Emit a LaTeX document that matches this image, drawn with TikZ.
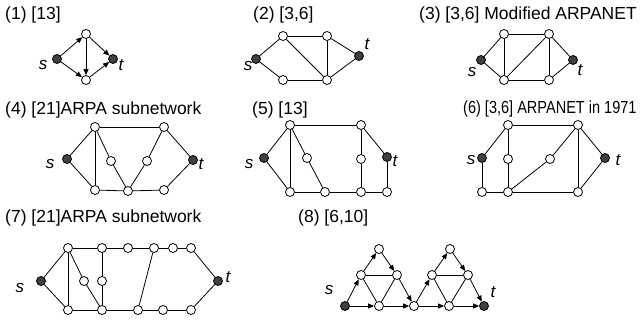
\documentclass[tikz,border=0pt]{standalone}
\usepackage{fontspec}
\setmainfont{Liberation Sans}
\usetikzlibrary{arrows.meta}

\begin{document}
\begin{tikzpicture}[x=1pt,y=-1pt,
  v/.style={draw,circle,fill=white,inner sep=0pt,minimum size=9pt,line width=.8pt},
  st/.style={draw,circle,fill=black!75,inner sep=0pt,minimum size=9pt,line width=.8pt},
  ttl/.style={anchor=west,inner sep=0pt,font=\fontsize{17.5}{18}\selectfont},
  lbl/.style={inner sep=0pt,font=\fontsize{17}{17}\selectfont\itshape},
  e/.style={line width=.8pt},
  a/.style={line width=.8pt,-{Triangle[length=6pt,width=5pt]}}]
\useasboundingbox (0,0) rectangle (642,320);
% (1)
\node[ttl] (h1) at (5,15) {(1) [13]};
\node[st] (s1) at (57,59) {};
\node[v] (u1) at (86,34) {};
\node[v] (w1) at (86,80) {};
\node[st] (t1) at (113,59) {};
\node[lbl] (ls1) at (43,65) {s};
\node[lbl] (lt1) at (121,65) {t};
\draw[a] (s1) -- (u1);
\draw[a] (s1) -- (w1);
\draw[a] (u1) -- (w1);
\draw[a] (u1) -- (t1);
\draw[a] (w1) -- (t1);
% (2)
\node[ttl] (h2) at (253,15) {(2) [3,6]};
\node[st] (s2) at (256,59) {};
\node[v] (u2) at (283,36) {};
\node[v] (x2) at (327,36) {};
\node[v] (w2) at (283,80) {};
\node[v] (y2) at (327,80) {};
\node[st] (t2) at (359,56) {};
\node[lbl] (ls2) at (248,66) {s};
\node[lbl] (lt2) at (367,44) {t};
\draw[e] (s2) -- (u2);
\draw[e] (s2) -- (w2);
\draw[e] (u2) -- (x2);
\draw[e] (u2) -- (y2);
\draw[e] (x2) -- (y2);
\draw[e] (w2) -- (y2);
\draw[e] (x2) -- (t2);
\draw[e] (y2) -- (t2);
% (3)
\node[ttl] (h3) at (419,15) {(3) [3,6] Modified ARPANET};
\node[st] (s3) at (481,60) {};
\node[v] (u3) at (504,34) {};
\node[v] (x3) at (549,34) {};
\node[v] (w3) at (504,80) {};
\node[v] (y3) at (549,80) {};
\node[st] (t3) at (573,60) {};
\node[lbl] (ls3) at (472,72) {s};
\node[lbl] (lt3) at (580,70) {t};
\draw[e] (s3) -- (u3);
\draw[e] (s3) -- (w3);
\draw[e] (u3) -- (x3);
\draw[e] (u3) -- (w3);
\draw[e] (w3) -- (x3);
\draw[e] (x3) -- (y3);
\draw[e] (w3) -- (y3);
\draw[e] (x3) -- (t3);
\draw[e] (y3) -- (t3);
% (4)
\node[ttl] (h4) at (5,110) {(4) [21]ARPA subnetwork};
\node[st] (s4) at (67,159) {};
\node[v] (a4) at (95,127) {};
\node[v] (b4) at (95,190) {};
\node[v] (c4) at (111,161) {};
\node[v] (d4) at (128,191) {};
\node[v] (e4) at (147,161) {};
\node[v] (f4) at (164,127) {};
\node[v] (g4) at (164,190) {};
\node[st] (t4) at (193,160) {};
\node[lbl] (ls4) at (50,164) {s};
\node[lbl] (lt4) at (201,164) {t};
\draw[e] (s4) -- (a4);
\draw[e] (s4) -- (b4);
\draw[e] (a4) -- (b4);
\draw[e] (a4) -- (f4);
\draw[e] (a4) -- (c4);
\draw[e] (c4) -- (d4);
\draw[e] (b4) -- (d4);
\draw[e] (d4) -- (e4);
\draw[e] (e4) -- (f4);
\draw[e] (d4) -- (g4);
\draw[e] (f4) -- (t4);
\draw[e] (g4) -- (t4);
% (5)
\node[ttl] (h5) at (252,110) {(5) [13]};
\node[st] (s5) at (264,158) {};
\node[v] (a5) at (290,125) {};
\node[v] (b5) at (290,192) {};
\node[v] (c5) at (307,158) {};
\node[v] (d5) at (325,192) {};
\node[v] (f5) at (361,125) {};
\node[v] (m5) at (361,159) {};
\node[v] (g5) at (361,192) {};
\node[st] (t5) at (387,157) {};
\node[v] (k5) at (387,192) {};
\node[lbl] (ls5) at (249,164) {s};
\node[lbl] (lt5) at (395,161) {t};
\draw[e] (s5) -- (a5);
\draw[e] (s5) -- (b5);
\draw[e] (a5) -- (b5);
\draw[e] (a5) -- (c5);
\draw[e] (c5) -- (d5);
\draw[e] (b5) -- (d5);
\draw[e] (a5) -- (f5);
\draw[e] (f5) -- (m5);
\draw[e] (m5) -- (g5);
\draw[e] (d5) -- (g5);
\draw[e] (g5) -- (k5);
\draw[e] (f5) -- (t5);
\draw[e] (t5) -- (k5);
% (6)
\node[ttl,font=\fontsize{17.5}{18}\selectfont\addfontfeature{FakeStretch=0.83}] (h6) at (463,109) {(6) [3,6] ARPANET in 1971};
\node[st] (s6) at (482,158) {};
\node[v] (a6) at (508,125) {};
\node[v] (m6) at (508,159) {};
\node[v] (p6) at (482,192) {};
\node[v] (b6) at (508,192) {};
\node[v] (c6) at (550,159) {};
\node[v] (f6) at (578,125) {};
\node[v] (g6) at (578,192) {};
\node[st] (t6) at (605,158) {};
\node[lbl] (ls6) at (471,160) {s};
\node[lbl] (lt6) at (618,160) {t};
\draw[e] (s6) -- (a6);
\draw[e] (s6) -- (p6);
\draw[e] (p6) -- (b6);
\draw[e] (a6) -- (m6);
\draw[e] (m6) -- (b6);
\draw[e] (a6) -- (f6);
\draw[e] (b6) -- (c6);
\draw[e] (c6) -- (f6);
\draw[e] (f6) -- (g6);
\draw[e] (b6) -- (g6);
\draw[e] (f6) -- (t6);
\draw[e] (t6) -- (g6);
% (7)
\node[ttl] (h7) at (5,218) {(7) [21]ARPA subnetwork};
\node[st] (s7) at (41,281) {};
\node[v] (p71) at (68,248) {};
\node[v] (p72) at (102,248) {};
\node[v] (p73) at (128,248) {};
\node[v] (p74) at (154,248) {};
\node[v] (p75) at (173,248) {};
\node[v] (p76) at (191,248) {};
\node[v] (q71) at (84,281) {};
\node[v] (q72) at (102,281) {};
\node[v] (r71) at (68,310) {};
\node[v] (r72) at (102,310) {};
\node[v] (r73) at (138,310) {};
\node[v] (r74) at (163,310) {};
\node[v] (r75) at (191,310) {};
\node[st] (t7) at (218,281) {};
\node[lbl] (ls7) at (20,288) {s};
\node[lbl] (lt7) at (228,277) {t};
\draw[e] (s7) -- (p71);
\draw[e] (s7) -- (r71);
\draw[e] (p71) -- (r71);
\draw[e] (p71) -- (q71);
\draw[e] (q71) -- (r72);
\draw[e] (p72) -- (q72);
\draw[e] (q72) -- (r72);
\draw[e] (p71) -- (p72) -- (p73) -- (p74) -- (p75) -- (p76);
\draw[e] (r71) -- (r72) -- (r73) -- (r74) -- (r75);
\draw[e] (p74) -- (r73);
\draw[e] (p76) -- (t7);
\draw[e] (r75) -- (t7);
% (8)
\node[ttl] (h8) at (298,218) {(8) [6,10]};
\node[st] (s8) at (345,306) {};
\node[v] (l8) at (361,275) {};
\node[v] (a8) at (379,249) {};
\node[v] (r8) at (397,275) {};
\node[v] (b8) at (379,306) {};
\node[v] (m8) at (414,306) {};
\node[v] (l9) at (432,275) {};
\node[v] (a9) at (450,249) {};
\node[v] (r9) at (468,275) {};
\node[v] (b9) at (449,306) {};
\node[st] (t8) at (484,306) {};
\node[lbl] (ls8) at (329,290) {s};
\node[lbl] (lt8) at (493,292) {t};
\draw[a] (s8) -- (l8);
\draw[a] (l8) -- (a8);
\draw[a] (a8) -- (r8);
\draw[a] (r8) -- (m8);
\draw[a] (s8) -- (b8);
\draw[a] (b8) -- (m8);
\draw[e] (l8) -- (r8);
\draw[e] (l8) -- (b8);
\draw[e] (r8) -- (b8);
\draw[a] (m8) -- (l9);
\draw[a] (l9) -- (a9);
\draw[a] (a9) -- (r9);
\draw[a] (r9) -- (t8);
\draw[a] (m8) -- (b9);
\draw[a] (b9) -- (t8);
\draw[e] (l9) -- (r9);
\draw[e] (l9) -- (b9);
\draw[e] (r9) -- (b9);
\end{tikzpicture}
\end{document}
